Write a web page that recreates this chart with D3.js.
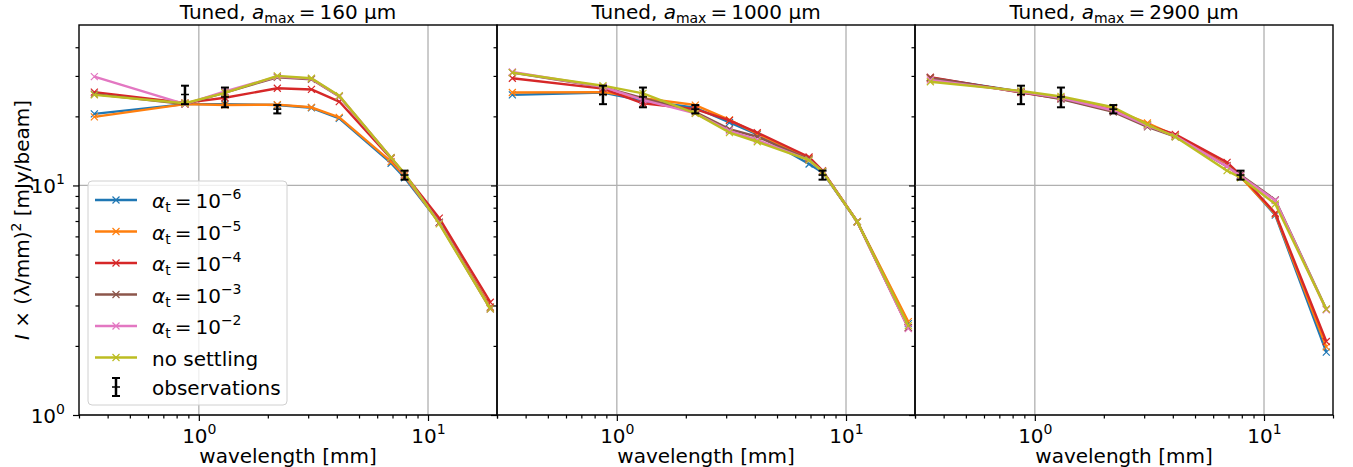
<!DOCTYPE html>
<html>
<head>
<meta charset="utf-8">
<script src="https://cdn.jsdelivr.net/npm/d3@7"></script>
<style>
  body { margin: 0; background: #fff; }
  text { font-family: "DejaVu Sans", sans-serif; fill: #000; }
</style>
</head>
<body>
<svg id="chart" width="1353" height="467"></svg>
<script>
// wavelengths of model points [mm]
const wavelength = [0.35, 0.87, 1.3, 2.2, 3.1, 4.1, 6.9, 7.9, 11.2, 18.7];

const seriesNames = ["1e-6", "1e-5", "1e-4", "1e-3", "1e-2", "none"];
const seriesExp = ["\u22126", "\u22125", "\u22124", "\u22123", "\u22122", null];
const seriesColors = ["#1f77b4", "#ff7f0e", "#d62728", "#8c564b", "#e377c2", "#bcbd22"];

const panelTitles = ["160", "1000", "2900"];

// I x (lambda/mm)^2 [mJy/beam], one row per alpha_t
const amax160 = [
  [20.5, 22.6, 22.6, 22.4, 21.8, 19.6, 12.5, 10.8, 6.9, 2.95],
  [19.9, 22.6, 22.4, 22.5, 21.9, 19.8, 12.7, 11.0, 6.9, 2.95],
  [25.5, 22.9, 24.1, 26.5, 26.2, 23.2, 13.1, 11.2, 7.2, 3.1],
  [25.0, 22.6, 25.4, 29.6, 29.0, 24.4, 13.2, 11.2, 6.9, 2.9],
  [29.8, 22.6, 25.7, 29.8, 29.2, 24.5, 13.2, 11.2, 6.85, 2.9],
  [24.8, 22.8, 25.3, 30.0, 29.3, 24.6, 13.2, 11.3, 6.8, 2.9]
];
const amax1000 = [
  [24.8, 25.4, 23.4, 21.8, 18.8, 16.7, 12.4, 11.4, 6.95, 2.5],
  [25.4, 25.5, 24.0, 22.4, 19.3, 16.8, 13.1, 11.5, 6.95, 2.55],
  [29.3, 26.4, 22.8, 21.5, 19.2, 17.0, 13.3, 11.6, 6.95, 2.4],
  [31.0, 26.8, 24.0, 20.9, 17.6, 16.3, 13.0, 11.5, 6.95, 2.4],
  [31.2, 26.9, 23.6, 20.6, 17.3, 15.8, 12.9, 11.5, 6.95, 2.38],
  [31.0, 27.2, 25.2, 20.6, 17.0, 15.5, 12.9, 11.5, 6.95, 2.45]
];
const amax2900 = [
  [29.5, 25.6, 24.0, 21.3, 18.4, 16.4, 12.2, 11.0, 7.43, 1.88],
  [29.2, 25.6, 24.1, 21.4, 18.7, 16.5, 12.2, 10.9, 7.5, 1.98],
  [29.6, 25.4, 23.9, 21.1, 18.3, 16.7, 12.6, 11.1, 7.57, 2.09],
  [29.4, 25.5, 23.8, 20.9, 18.0, 16.3, 12.1, 11.1, 8.65, 2.89],
  [28.8, 25.6, 24.1, 21.2, 18.2, 16.4, 12.1, 11.0, 8.6, 2.87],
  [28.3, 25.8, 24.4, 21.9, 18.4, 16.3, 11.6, 10.8, 8.3, 2.89]
];
const panelData = [amax160, amax1000, amax2900];

// observations
const obsWavelength = [0.87, 1.3, 2.2, 7.9];
const obsValue = [24.9, 24.3, 21.5, 11.1];
const obsError = [2.3, 2.4, 0.9, 0.5];

const xMajor = [1, 10];
const xMinor = [0.3, 0.4, 0.5, 0.6, 0.7, 0.8, 0.9, 2, 3, 4, 5, 6, 7, 8, 9, 20];
const yMajor = [1, 10];
const yMinor = [2, 3, 4, 5, 6, 7, 8, 9, 20, 30, 40];

const svg = d3.select("#chart");
const margin = { top: 25, left: 79 };
const panelW = 418, panelH = 390;
const fs = "20px", fsSmall = "14px";

function sup(sel, base, exp) {
  sel.text(null);
  sel.append("tspan").text(base);
  sel.append("tspan").attr("dy", -9).style("font-size", fsSmall).text(exp);
}

panelData.forEach((rows, p) => {
  const x0 = margin.left + p * panelW;
  const g = svg.append("g").attr("transform", `translate(${x0},${margin.top})`);

  const x = d3.scaleLog().domain([0.3, 20]).range([0, panelW]);
  const y = d3.scaleLog().domain([1, 50]).range([panelH, 0]);

  // grid
  g.append("g").selectAll("line").data(xMajor).join("line")
    .attr("x1", d => x(d)).attr("x2", d => x(d))
    .attr("y1", 0).attr("y2", panelH)
    .attr("stroke", "#b0b0b0").attr("stroke-width", 1.3);
  g.append("g").selectAll("line").data(yMajor).join("line")
    .attr("y1", d => y(d)).attr("y2", d => y(d))
    .attr("x1", 0).attr("x2", panelW)
    .attr("stroke", "#b0b0b0").attr("stroke-width", 1.3);

  // model lines
  const line = d3.line().x((d, i) => x(wavelength[i])).y(d => y(d));
  rows.forEach((vals, s) => {
    const sg = g.append("g");
    sg.append("path").datum(vals)
      .attr("d", line)
      .attr("fill", "none")
      .attr("stroke", seriesColors[s])
      .attr("stroke-width", 2.4)
      .attr("stroke-linejoin", "round");
    sg.selectAll("path.m").data(vals).join("path").attr("class", "m")
      .attr("transform", (d, i) => `translate(${x(wavelength[i])},${y(d)})`)
      .attr("d", "M-3.5,-3.5L3.5,3.5M-3.5,3.5L3.5,-3.5")
      .attr("stroke", seriesColors[s])
      .attr("stroke-width", 1.2);
  });

  // observations
  const obs = obsWavelength.map((w, i) => ({ w, v: obsValue[i], e: obsError[i] }));
  const og = g.append("g").selectAll("g").data(obs).join("g")
    .attr("transform", d => `translate(${x(d.w)},0)`);
  og.append("line")
    .attr("y1", d => y(d.v + d.e)).attr("y2", d => y(d.v - d.e))
    .attr("stroke", "#000").attr("stroke-width", 2.5);
  og.append("line")
    .attr("x1", -4).attr("x2", 4)
    .attr("y1", d => y(d.v + d.e)).attr("y2", d => y(d.v + d.e))
    .attr("stroke", "#000").attr("stroke-width", 2);
  og.append("line")
    .attr("x1", -4).attr("x2", 4)
    .attr("y1", d => y(d.v - d.e)).attr("y2", d => y(d.v - d.e))
    .attr("stroke", "#000").attr("stroke-width", 2);
  og.append("line")
    .attr("x1", -4).attr("x2", 4)
    .attr("y1", d => y(d.v)).attr("y2", d => y(d.v))
    .attr("stroke", "#000").attr("stroke-width", 1.5);

  // axes
  const xAxis = g.append("g").attr("transform", `translate(0,${panelH})`)
    .call(d3.axisBottom(x).tickValues(xMajor).tickSize(6).tickFormat(""));
  xAxis.selectAll(".tick").append("text")
    .attr("y", 28).attr("text-anchor", "middle")
    .style("font-size", fs)
    .each(function (d) { sup(d3.select(this), "10", String(Math.round(Math.log10(d)))); });
  g.append("g").attr("transform", `translate(0,${panelH})`)
    .call(d3.axisBottom(x).tickValues(xMinor).tickSize(3.5).tickFormat(""));

  const yAxis = g.append("g")
    .call(d3.axisLeft(y).tickValues(yMajor).tickSize(6).tickFormat(""));
  if (p === 0) {
    yAxis.selectAll(".tick").append("text")
      .attr("x", -14).attr("dy", 7).attr("text-anchor", "end")
      .style("font-size", fs)
      .each(function (d) { sup(d3.select(this), "10", String(Math.round(Math.log10(d)))); });
  }
  g.append("g").call(d3.axisLeft(y).tickValues(yMinor).tickSize(3.5).tickFormat(""));

  g.selectAll(".domain").attr("stroke", "none");
  g.selectAll(".tick line").attr("stroke", "#000").attr("stroke-width", 1.2);

  // frame
  g.append("rect").attr("width", panelW).attr("height", panelH)
    .attr("fill", "none").attr("stroke", "#000").attr("stroke-width", 1.4);

  // title
  const t = g.append("text").attr("x", panelW / 2).attr("y", -6)
    .attr("text-anchor", "middle").style("font-size", fs);
  t.append("tspan").text("Tuned, ");
  t.append("tspan").style("font-style", "italic").text("a");
  t.append("tspan").attr("dy", 4).style("font-size", fsSmall).text("max");
  t.append("tspan").attr("dy", -4).text("\u2009=\u2009" + panelTitles[p] + " \u03bcm");

  // x label
  g.append("text").attr("x", panelW / 2).attr("y", panelH + 48)
    .attr("text-anchor", "middle").style("font-size", fs)
    .text("wavelength [mm]");

  // legend in first panel
  if (p === 0) {
    const lg = g.append("g").attr("transform", "translate(9,156)");
    lg.append("rect").attr("width", 199).attr("height", 224).attr("rx", 4)
      .attr("fill", "#fff").attr("fill-opacity", 0.8)
      .attr("stroke", "#d0d0d0").attr("stroke-width", 1);
    seriesNames.forEach((n, s) => {
      const yy = 19 + s * 31.5;
      lg.append("line").attr("x1", 7).attr("x2", 49).attr("y1", yy).attr("y2", yy)
        .attr("stroke", seriesColors[s]).attr("stroke-width", 2.4);
      lg.append("path").attr("transform", `translate(28,${yy})`)
        .attr("d", "M-3.5,-3.5L3.5,3.5M-3.5,3.5L3.5,-3.5")
        .attr("stroke", seriesColors[s]).attr("stroke-width", 1.2);
      const tx = lg.append("text").attr("x", 64).attr("y", yy + 8).style("font-size", fs);
      if (seriesExp[s]) {
        tx.append("tspan").style("font-style", "italic").text("\u03b1");
        tx.append("tspan").attr("dy", 4).style("font-size", fsSmall).text("t");
        tx.append("tspan").attr("dy", -4).text("\u2009=\u200910");
        tx.append("tspan").attr("dy", -9).style("font-size", fsSmall).text(seriesExp[s]);
      } else {
        tx.text("no settling");
      }
    });
    const yo = 19 + 6 * 31.5 - 2;
    lg.append("line").attr("x1", 28).attr("x2", 28).attr("y1", yo - 9).attr("y2", yo + 9)
      .attr("stroke", "#000").attr("stroke-width", 2.5);
    [yo - 9, yo + 9].forEach(v => lg.append("line").attr("x1", 24).attr("x2", 32)
      .attr("y1", v).attr("y2", v).attr("stroke", "#000").attr("stroke-width", 2));
    lg.append("line").attr("x1", 24).attr("x2", 32).attr("y1", yo).attr("y2", yo)
      .attr("stroke", "#000").attr("stroke-width", 1.5);
    lg.append("text").attr("x", 64).attr("y", yo + 8).style("font-size", fs).text("observations");
  }
});

// y label
const yl = svg.append("text")
  .attr("transform", `translate(29,${margin.top + panelH / 2}) rotate(-90)`)
  .attr("text-anchor", "middle").style("font-size", fs);
yl.append("tspan").style("font-style", "italic").text("I");
yl.append("tspan").text(" \u00d7 (\u03bb/mm)");
yl.append("tspan").attr("dy", -8).style("font-size", fsSmall).text("2");
yl.append("tspan").attr("dy", 8).text(" [mJy/beam]");
</script>
</body>
</html>
